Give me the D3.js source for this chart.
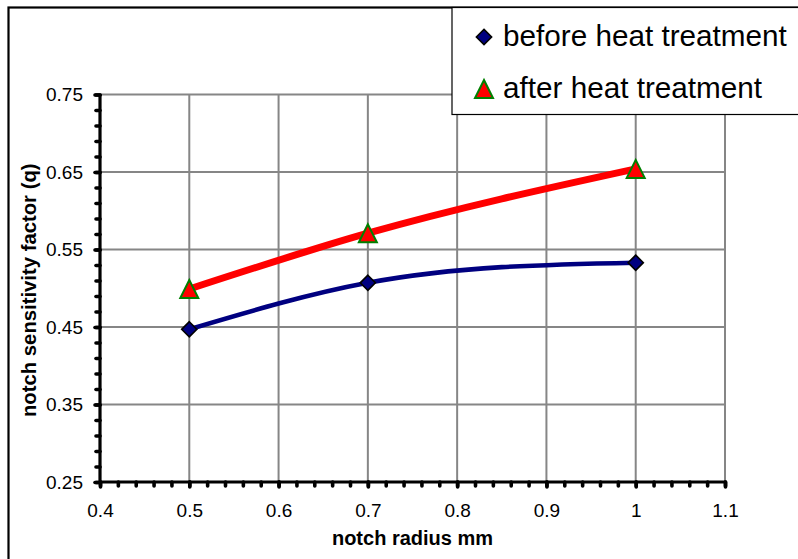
<!DOCTYPE html>
<html>
<head>
<meta charset="utf-8">
<script src="https://cdn.jsdelivr.net/npm/d3@7"></script>
<style>
  body { margin: 0; background: #fff; }
  svg { display: block; }
  text { font-family: "Liberation Sans", Arial, Helvetica, sans-serif; fill: #000; }
</style>
</head>
<body>
<svg id="chart" width="798" height="559"></svg>
<script>
// Notch sensitivity factor q against notch radius, before and after heat treatment
const radius = [0.5, 0.7, 1.0];
const qBefore = [0.447, 0.507, 0.533];
const qAfter = [0.499, 0.571, 0.654];
const seriesNames = ["before heat treatment", "after heat treatment"];

const xTickValues = [0.4, 0.5, 0.6, 0.7, 0.8, 0.9, 1.0, 1.1];
const xTickLabels = ["0.4", "0.5", "0.6", "0.7", "0.8", "0.9", "1", "1.1"];
const yTickValues = [0.25, 0.35, 0.45, 0.55, 0.65, 0.75];
const yTickLabels = ["0.25", "0.35", "0.45", "0.55", "0.65", "0.75"];
const minorStep = 0.02;

const xTitle = "notch radius mm";
const yTitle = "notch sensitivity factor (q)";

const svg = d3.select("#chart");
const W = 798, H = 559;
const plot = { left: 100, right: 725, top: 94.5, bottom: 482 };

svg.append("rect").attr("width", W).attr("height", H).attr("fill", "#fff");

// outer chart frame (runs off the right and bottom edges)
svg.append("rect")
  .attr("x", 8.5).attr("y", 7.5)
  .attr("width", W + 20).attr("height", H + 20)
  .attr("fill", "none").attr("stroke", "#000").attr("stroke-width", 2.2);

const x = d3.scaleLinear().domain([0.4, 1.1]).range([plot.left, plot.right]);
const y = d3.scaleLinear().domain([0.25, 0.75]).range([plot.bottom, plot.top]);

const round = v => Math.round(v * 1000) / 1000;
const xMinor = d3.range(0.4, 1.1 + 1e-9, minorStep).map(round);
const yMinor = d3.range(0.25, 0.75 + 1e-9, minorStep).map(round);

// gridlines
const grid = svg.append("g").attr("stroke", "#868686").attr("stroke-width", 2);
grid.selectAll("line.v").data(xTickValues.slice(1)).join("line")
  .attr("x1", d => x(d)).attr("x2", d => x(d))
  .attr("y1", plot.top).attr("y2", plot.bottom);
grid.selectAll("line.h").data(yTickValues.slice(1)).join("line")
  .attr("x1", plot.left).attr("x2", plot.right)
  .attr("y1", d => y(d)).attr("y2", d => y(d));

// axes: minor ticks every 0.02, labelled ticks at the major values
function styleAxis(g) {
  g.select(".domain").remove();
  g.selectAll(".tick line").attr("stroke", "#000").attr("stroke-width", 3.6)
    .attr("stroke-linecap", "round");
}

const xAxisMinor = d3.axisBottom(x).tickValues(xMinor).tickFormat("").tickSize(4).tickSizeOuter(0);
svg.append("g").attr("transform", `translate(0,${plot.bottom})`).call(xAxisMinor).call(styleAxis);

const yAxisMinor = d3.axisLeft(y).tickValues(yMinor).tickFormat("").tickSize(4).tickSizeOuter(0);
svg.append("g").attr("transform", `translate(${plot.left},0)`).call(yAxisMinor).call(styleAxis);

const xAxis = d3.axisBottom(x).tickValues(xTickValues)
  .tickFormat((d, i) => xTickLabels[i]).tickSize(5).tickPadding(17).tickSizeOuter(0);
const gx = svg.append("g").attr("transform", `translate(0,${plot.bottom})`).call(xAxis).call(styleAxis);
gx.selectAll(".tick text").attr("font-size", 19).attr("font-family", "Liberation Sans, Arial, sans-serif");

const yAxis = d3.axisLeft(y).tickValues(yTickValues)
  .tickFormat((d, i) => yTickLabels[i]).tickSize(5).tickPadding(12).tickSizeOuter(0);
const gy = svg.append("g").attr("transform", `translate(${plot.left},0)`).call(yAxis).call(styleAxis);
gy.selectAll(".tick text").attr("font-size", 19).attr("font-family", "Liberation Sans, Arial, sans-serif");

// axis lines
svg.append("line").attr("x1", plot.left).attr("x2", plot.right)
  .attr("y1", plot.bottom).attr("y2", plot.bottom)
  .attr("stroke", "#000").attr("stroke-width", 3.2);
svg.append("line").attr("x1", plot.left).attr("x2", plot.left)
  .attr("y1", plot.top).attr("y2", plot.bottom)
  .attr("stroke", "#000").attr("stroke-width", 3.2);

// axis titles
svg.append("text")
  .attr("x", (plot.left + plot.right) / 2).attr("y", 545)
  .attr("text-anchor", "middle").attr("font-weight", "bold").attr("font-size", 20)
  .text(xTitle);
svg.append("text")
  .attr("transform", `translate(36,${(plot.top + plot.bottom) / 2 + 2}) rotate(-90)`)
  .attr("text-anchor", "middle").attr("font-weight", "bold").attr("font-size", 20.3)
  .text(yTitle);

// Curve factory: natural cubic spline y(x) through the points, written out
// as one cubic Bezier per interval (same pattern as d3.curveMonotoneX).
function curveNaturalX(context) {
  let xs, ys;
  return {
    areaStart() {}, areaEnd() {},
    lineStart() { xs = []; ys = []; },
    point(px, py) { xs.push(+px); ys.push(+py); },
    lineEnd() {
      const n = xs.length;
      if (!n) return;
      context.moveTo(xs[0], ys[0]);
      if (n === 1) return;
      if (n === 2) { context.lineTo(xs[1], ys[1]); return; }
      const h = [], s = [];
      for (let i = 0; i < n - 1; i++) {
        h.push(xs[i + 1] - xs[i]);
        s.push((ys[i + 1] - ys[i]) / h[i]);
      }
      // second derivatives M (natural ends: M[0] = M[n-1] = 0), Thomas algorithm
      const M = new Array(n).fill(0);
      const a = [], b = [], c = [], r = [];
      for (let i = 1; i < n - 1; i++) {
        a.push(h[i - 1]); b.push(2 * (h[i - 1] + h[i])); c.push(h[i]);
        r.push(6 * (s[i] - s[i - 1]));
      }
      const m = b.length;
      for (let i = 1; i < m; i++) {
        const w = a[i] / b[i - 1];
        b[i] -= w * c[i - 1];
        r[i] -= w * r[i - 1];
      }
      const sol = new Array(m);
      sol[m - 1] = r[m - 1] / b[m - 1];
      for (let i = m - 2; i >= 0; i--) sol[i] = (r[i] - c[i] * sol[i + 1]) / b[i];
      for (let i = 0; i < m; i++) M[i + 1] = sol[i];
      for (let i = 0; i < n - 1; i++) {
        const t0 = s[i] - h[i] * (2 * M[i] + M[i + 1]) / 6;
        const t1 = s[i] + h[i] * (M[i] + 2 * M[i + 1]) / 6;
        const d = h[i] / 3;
        context.bezierCurveTo(xs[i] + d, ys[i] + t0 * d, xs[i + 1] - d, ys[i + 1] - t1 * d, xs[i + 1], ys[i + 1]);
      }
    }
  };
}

const line = d3.line()
  .x(d => x(d[0])).y(d => y(d[1]))
  .curve(curveNaturalX);

const before = radius.map((r, i) => [r, qBefore[i]]);
const after = radius.map((r, i) => [r, qAfter[i]]);

const diamond = s => `M0,${-s}L${s},0L0,${s}L${-s},0Z`;
const triangle = s => `M0,${-s}L${s},${s}L${-s},${s}Z`;

function drawDiamond(g, cx, cy) {
  g.append("path").attr("d", diamond(7.6))
    .attr("transform", `translate(${cx},${cy})`)
    .attr("fill", "#000080").attr("stroke", "#000").attr("stroke-width", 1.6);
}
function drawTriangle(g, cx, cy) {
  g.append("path").attr("d", triangle(9))
    .attr("transform", `translate(${cx},${cy})`)
    .attr("fill", "#ff0000").attr("stroke", "#008000").attr("stroke-width", 2)
    .attr("stroke-linejoin", "miter");
}

const gBefore = svg.append("g");
gBefore.append("path").datum(before).attr("d", line)
  .attr("fill", "none").attr("stroke", "#000080").attr("stroke-width", 4.6);
before.forEach(d => drawDiamond(gBefore, x(d[0]), y(d[1])));

const gAfter = svg.append("g");
gAfter.append("path").datum(after).attr("d", line)
  .attr("fill", "none").attr("stroke", "#ff0000").attr("stroke-width", 7);
after.forEach(d => drawTriangle(gAfter, x(d[0]), y(d[1])));

// legend
const lg = svg.append("g");
lg.append("rect").attr("x", 452).attr("y", 7.5).attr("width", 400).attr("height", 107)
  .attr("fill", "#fff").attr("stroke", "#000").attr("stroke-width", 1.2);
drawDiamond(lg, 484, 37);
drawTriangle(lg, 484, 89);
lg.append("text").attr("x", 503).attr("y", 46).attr("font-size", 29.7).text(seriesNames[0]);
lg.append("text").attr("x", 503).attr("y", 98).attr("font-size", 29.7).text(seriesNames[1]);
</script>
</body>
</html>
